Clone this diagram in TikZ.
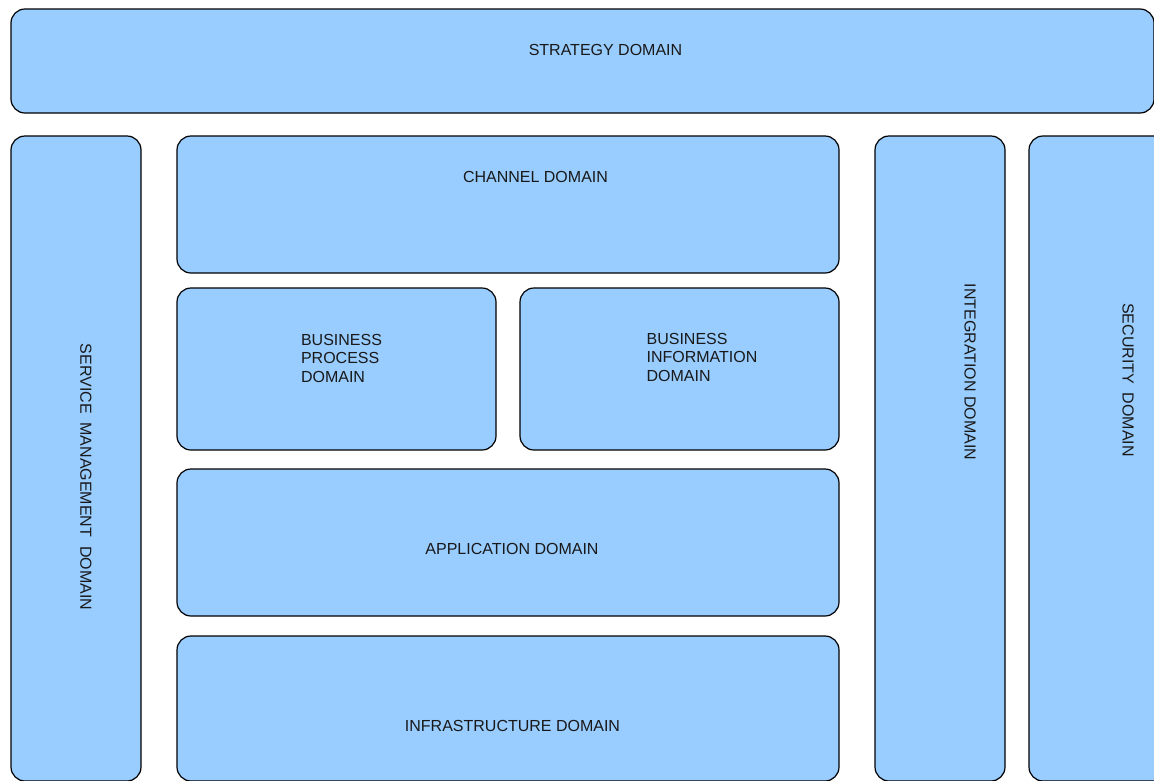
\documentclass[tikz,border=0pt]{standalone}
\usepackage{fontspec}
\setmainfont{Liberation Sans}
\definecolor{boxblue}{HTML}{99CCFF}
\tikzset{
  domainbox/.style={draw=black, fill=boxblue, line width=1.2pt, rounded corners=14pt, inner sep=0pt, outer sep=0pt, anchor=north west},
  domaintext/.style={font=\fontsize{16}{18.5}\selectfont, inner sep=0pt, text=black!90},
}
\newcommand{\dbox}[5]{\node[domainbox, minimum width=#4pt, minimum height=#5pt] (#1) at (#2,#3) {};}
\begin{document}
\begin{tikzpicture}[x=1pt,y=-1pt]
\useasboundingbox (0,0) rectangle (1154,780);
\clip (0,0) rectangle (1154,780);
\dbox{strategy}{11}{9}{1143}{104}
\dbox{service}{11}{136}{130}{645}
\dbox{channel}{177}{136}{662}{137}
\dbox{process}{177}{288}{319}{162}
\dbox{information}{520}{288}{319}{162}
\dbox{application}{177}{469}{662}{147}
\dbox{infrastructure}{177}{636}{662}{145}
\dbox{integration}{875}{136}{130}{645}
\dbox{security}{1029}{136}{150}{645}

\node[domaintext] (tstrategy) at (605.5,50) {STRATEGY DOMAIN};
\node[domaintext, rotate=-90] (tservice) at (86,477) {SERVICE\ \ MANAGEMENT\ \ DOMAIN};
\node[domaintext] (tchannel) at (535.5,177) {CHANNEL DOMAIN};
\node[domaintext, align=left] (tprocess) at (341.5,358) {BUSINESS\\PROCESS\\DOMAIN};
\node[domaintext, align=left] (tinformation) at (702,357) {BUSINESS\\INFORMATION\\DOMAIN};
\node[domaintext] (tapplication) at (512,549) {APPLICATION DOMAIN};
\node[domaintext] (tinfrastructure) at (512.5,726) {INFRASTRUCTURE DOMAIN};
\node[domaintext, rotate=-90] (tintegration) at (970,372) {INTEGRATION DOMAIN};
\node[domaintext, rotate=-90] (tsecurity) at (1128,380) {SECURITY\ \ DOMAIN};
\end{tikzpicture}
\end{document}
